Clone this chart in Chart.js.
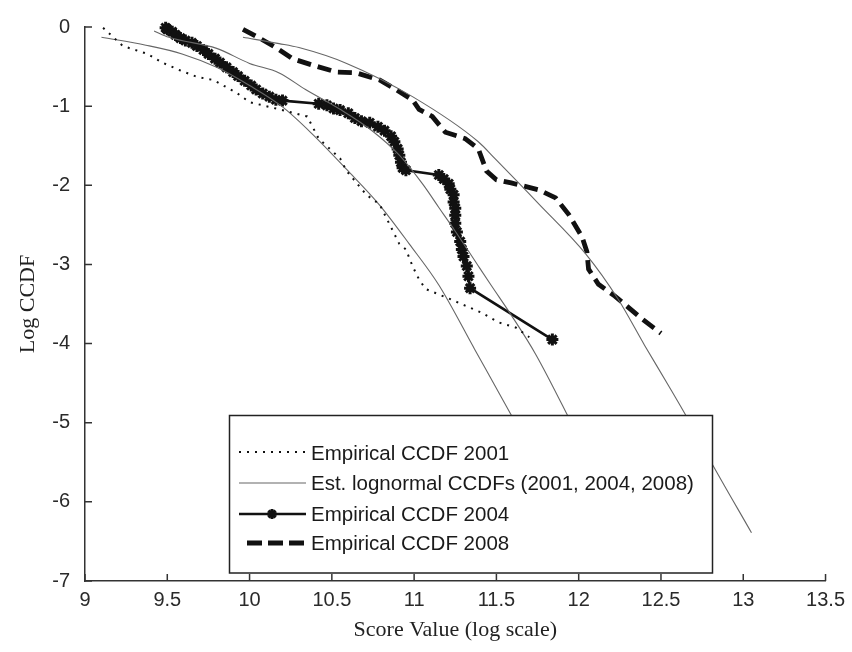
<!DOCTYPE html>
<html>
<head>
<meta charset="utf-8">
<script src="https://cdn.jsdelivr.net/npm/chart.js@4.4.1/dist/chart.umd.min.js"></script>
<style>
  html, body { margin: 0; padding: 0; background: #fff; }
  #wrap { width: 852px; height: 652px; }
</style>
</head>
<body>
<div id="wrap"><canvas id="chart" width="852" height="652"></canvas></div>
<script>
// Axis ticks
const xTickValues = [9, 9.5, 10, 10.5, 11, 11.5, 12, 12.5, 13, 13.5];
const yTickValues = [0, -1, -2, -3, -4, -5, -6, -7];

// Empirical CCDF 2001 (log score, log CCDF)
const emp2001X = [9.11, 9.23, 9.38, 9.47, 9.58, 9.68, 9.78, 9.92, 10.00, 10.18, 10.35, 10.38, 10.42, 10.55, 10.59, 10.71, 10.79, 10.85, 10.91, 10.95, 10.99, 11.03, 11.07, 11.21, 11.31, 11.41, 11.51, 11.62, 11.70];
const emp2001Y = [-0.01, -0.24, -0.34, -0.45, -0.55, -0.63, -0.67, -0.83, -0.95, -1.04, -1.13, -1.25, -1.41, -1.66, -1.82, -2.12, -2.24, -2.49, -2.74, -2.81, -3.02, -3.19, -3.31, -3.43, -3.52, -3.61, -3.73, -3.80, -3.92];

// Empirical CCDF 2004
const emp2004X = [9.49, 9.50, 9.53, 9.55, 9.58, 9.61, 9.65, 9.68, 9.72, 9.75, 9.79, 9.82, 9.86, 9.90, 9.93, 9.97, 10.01, 10.04, 10.08, 10.12, 10.16, 10.20, 10.42, 10.47, 10.51, 10.55, 10.60, 10.64, 10.68, 10.73, 10.78, 10.82, 10.86, 10.88, 10.90, 10.91, 10.92, 10.93, 10.95, 11.15, 11.18, 11.21, 11.22, 11.24, 11.24, 11.25, 11.25, 11.25, 11.26, 11.28, 11.29, 11.30, 11.32, 11.33, 11.34, 11.84];
const emp2004Y = [-0.01, -0.03, -0.06, -0.10, -0.14, -0.17, -0.20, -0.24, -0.29, -0.34, -0.40, -0.45, -0.51, -0.57, -0.62, -0.68, -0.74, -0.79, -0.84, -0.88, -0.92, -0.93, -0.97, -0.99, -1.03, -1.05, -1.09, -1.15, -1.19, -1.21, -1.26, -1.31, -1.38, -1.45, -1.54, -1.62, -1.71, -1.78, -1.81, -1.87, -1.92, -1.98, -2.05, -2.12, -2.21, -2.29, -2.38, -2.48, -2.59, -2.71, -2.81, -2.90, -3.02, -3.15, -3.30, -3.95];

// Empirical CCDF 2008
const emp2008X = [9.96, 10.06, 10.16, 10.26, 10.38, 10.53, 10.65, 10.79, 10.89, 10.99, 11.03, 11.11, 11.19, 11.31, 11.39, 11.44, 11.50, 11.59, 11.76, 11.86, 11.94, 12.02, 12.05, 12.06, 12.12, 12.22, 12.38, 12.50];
const emp2008Y = [-0.03, -0.14, -0.26, -0.40, -0.48, -0.57, -0.58, -0.67, -0.79, -0.92, -1.04, -1.13, -1.33, -1.41, -1.54, -1.82, -1.93, -1.97, -2.06, -2.16, -2.37, -2.65, -2.84, -3.06, -3.25, -3.40, -3.68, -3.87];

// Fitted lognormal CCDFs
const ln2001X = [9.10, 9.37, 9.59, 9.80, 10.00, 10.20, 10.38, 10.59, 10.79, 10.97, 11.15, 11.37, 11.60, 11.66];
const ln2001Y = [-0.13, -0.23, -0.34, -0.51, -0.74, -1.01, -1.35, -1.80, -2.25, -2.74, -3.26, -4.08, -4.94, -5.17];
const ln2004X = [9.42, 9.51, 9.80, 10.00, 10.18, 10.34, 10.55, 10.75, 10.91, 11.05, 11.15, 11.25, 11.39, 11.47, 11.59, 11.74, 11.94, 11.99];
const ln2004Y = [-0.05, -0.13, -0.27, -0.46, -0.58, -0.79, -1.04, -1.32, -1.62, -1.98, -2.28, -2.58, -3.02, -3.27, -3.64, -4.14, -4.94, -5.15];
const ln2008X = [9.96, 10.18, 10.30, 10.59, 10.99, 11.39, 11.49, 11.76, 12.04, 12.24, 12.40, 12.54, 12.66, 12.80, 13.05];
const ln2008Y = [-0.13, -0.21, -0.26, -0.46, -0.88, -1.45, -1.66, -2.24, -2.86, -3.44, -4.02, -4.51, -4.94, -5.48, -6.39];

const labelEmp2001 = 'Empirical CCDF 2001';
const labelLognormal = 'Est. lognormal CCDFs (2001, 2004, 2008)';
const labelEmp2004 = 'Empirical CCDF 2004';
const labelEmp2008 = 'Empirical CCDF 2008';

const INK = '#111';
const AXIS = '#333';
const FIT = '#666';
const SANS = '"Liberation Sans", Arial, sans-serif';
const SERIF = '"Liberation Serif", "Times New Roman", serif';

const pts = (xs, ys) => xs.map((x, i) => ({ x, y: ys[i] }));

const styles = {
  dotted:  { borderColor: INK, borderWidth: 2, borderDash: [2, 6] },
  fit:     { borderColor: FIT, borderWidth: 1.1, borderDash: [] },
  starred: { borderColor: INK, borderWidth: 2.6, borderDash: [] },
  dashed:  { borderColor: INK, borderWidth: 4.8, borderDash: [14, 7] }
};

function lineSet(label, data, style, extra) {
  return Object.assign({
    label, data,
    borderColor: style.borderColor,
    borderWidth: style.borderWidth,
    borderDash: style.borderDash,
    pointRadius: 0,
    fill: false,
    tension: 0,
    legendStyle: style
  }, extra || {});
}

const datasets = [
  lineSet(labelEmp2001, pts(emp2001X, emp2001Y), styles.dotted),
  lineSet(labelLognormal, pts(ln2001X, ln2001Y), styles.fit, { cubicInterpolationMode: 'monotone' }),
  lineSet(labelLognormal, pts(ln2004X, ln2004Y), styles.fit, { cubicInterpolationMode: 'monotone' }),
  lineSet(labelLognormal, pts(ln2008X, ln2008Y), styles.fit, { cubicInterpolationMode: 'monotone' }),
  lineSet(labelEmp2004, pts(emp2004X, emp2004Y), styles.starred, {
    pointStyle: 'star', pointRadius: 6, pointBorderWidth: 3,
    pointBorderColor: INK, pointBackgroundColor: INK, clip: false, starMarker: true
  }),
  lineSet(labelEmp2008, pts(emp2008X, emp2008Y), styles.dashed)
];

function drawStar(ctx, cx, cy, r) {
  ctx.beginPath();
  for (let k = 0; k < 4; k++) {
    const a = k * Math.PI / 4;
    ctx.moveTo(cx - r * Math.cos(a), cy - r * Math.sin(a));
    ctx.lineTo(cx + r * Math.cos(a), cy + r * Math.sin(a));
  }
  ctx.stroke();
}

// Boxed key inside the plotting area
const boxedKey = {
  id: 'boxedKey',
  afterDatasetsDraw(chart) {
    const { ctx } = chart;
    const box = { left: 229.5, top: 415.5, width: 483, height: 157.5 };
    ctx.save();
    ctx.fillStyle = '#fff';
    ctx.fillRect(box.left, box.top, box.width, box.height);
    ctx.strokeStyle = '#222';
    ctx.lineWidth = 1.5;
    ctx.strokeRect(box.left, box.top, box.width, box.height);

    const seen = [];
    chart.data.datasets.forEach(ds => {
      if (!seen.find(s => s.label === ds.label)) seen.push(ds);
    });
    const rowY = [452, 483, 514, 543];
    const textY = [454, 484, 515, 544];
    seen.forEach((ds, i) => {
      const st = ds.legendStyle;
      const y = rowY[i];
      ctx.strokeStyle = st.borderColor;
      ctx.lineWidth = st.borderWidth;
      ctx.setLineDash(st.borderDash);
      ctx.beginPath();
      if (st === styles.dashed) {
        ctx.setLineDash([15, 6]);
        ctx.moveTo(247, y); ctx.lineTo(305, y);
      } else {
        ctx.moveTo(239, y); ctx.lineTo(306, y);
      }
      ctx.stroke();
      ctx.setLineDash([]);
      if (ds.starMarker) {
        ctx.lineWidth = 3;
        drawStar(ctx, 272, y, 5);
      }
      ctx.fillStyle = '#1a1a1a';
      ctx.font = '20.5px ' + SANS;
      ctx.textBaseline = 'middle';
      ctx.textAlign = 'left';
      ctx.fillText(ds.label, 311, textY[i]);
    });
    ctx.restore();
  }
};

// Tick marks pointing into the plot
const inwardTicks = {
  id: 'inwardTicks',
  afterDraw(chart) {
    const { ctx, chartArea: a, scales: { x, y } } = chart;
    const len = 7;
    ctx.save();
    ctx.strokeStyle = AXIS;
    ctx.lineWidth = 1.5;
    ctx.beginPath();
    x.ticks.forEach(t => {
      const px = x.getPixelForValue(t.value);
      ctx.moveTo(px, a.bottom); ctx.lineTo(px, a.bottom - len);
    });
    y.ticks.forEach(t => {
      const py = y.getPixelForValue(t.value);
      ctx.moveTo(a.left, py); ctx.lineTo(a.left + len, py);
    });
    ctx.stroke();
    ctx.restore();
  }
};

new Chart(document.getElementById('chart'), {
  type: 'line',
  data: { datasets },
  plugins: [boxedKey, inwardTicks],
  options: {
    responsive: false,
    animation: false,
    devicePixelRatio: 1,
    layout: { padding: { top: 16, right: 24, bottom: 0, left: 0 } },
    plugins: { legend: { display: false }, tooltip: { enabled: false } },
    scales: {
      x: {
        type: 'linear',
        min: 9, max: 13.5,
        afterBuildTicks: s => { s.ticks = xTickValues.map(v => ({ value: v })); },
        afterFit: s => { s.height = 71; },
        grid: { display: false, drawTicks: false },
        border: { display: true, color: AXIS, width: 1.5 },
        ticks: {
          color: '#2a2a2a', padding: 7, maxRotation: 0, autoSkip: false,
          font: { family: SANS, size: 20 },
          callback: v => String(v)
        },
        title: {
          display: true, text: 'Score Value (log scale)', color: '#222',
          font: { family: SERIF, size: 22 }, padding: { top: 0, bottom: 9 }
        }
      },
      y: {
        type: 'linear',
        min: -7, max: 0,
        afterBuildTicks: s => { s.ticks = yTickValues.map(v => ({ value: v })); },
        afterFit: s => { s.width = 85; },
        grid: { display: false, drawTicks: false },
        border: { display: true, color: AXIS, width: 1.5 },
        ticks: {
          color: '#2a2a2a', padding: 15, autoSkip: false,
          font: { family: SANS, size: 20 },
          callback: v => String(v)
        },
        title: {
          display: true, text: 'Log CCDF', color: '#222',
          font: { family: SERIF, size: 22 }, padding: { top: 15, bottom: 0 }
        }
      }
    }
  }
});
</script>
</body>
</html>
